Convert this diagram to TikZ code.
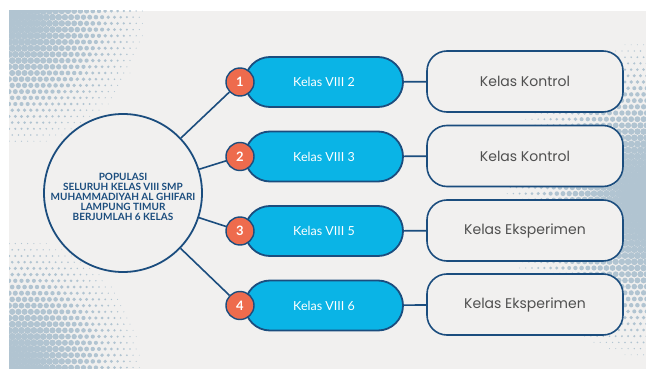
\documentclass[tikz,border=0pt]{standalone}
\usepackage{fontspec}
\setmainfont{Poppins}
\newfontfamily\latof{Lato}
\definecolor{bgc}{HTML}{F1F0EF}
\definecolor{dotc}{HTML}{B1C4D1}
\definecolor{navy}{HTML}{1B4D7E}
\definecolor{cyanf}{HTML}{0AB4E6}
\definecolor{orangef}{HTML}{EE6B4D}
\definecolor{txtg}{HTML}{505050}
\newcommand\halftone[8]{%
  \foreach \k in {0,...,#7}{%
    \pgfmathsetmacro\gy{#6+\k*6.2}%
    \pgfmathsetmacro\off{mod(\k,2)*3.1}%
    \foreach \m in {0,...,#5}{%
      \pgfmathsetmacro\gx{#4+\m*6.2+\off}%
      \pgfmathsetmacro\dd{min(veclen(\gx-#1,\gy-#2)/#3,1)}%
      \pgfmathsetmacro\rr{#8*(1-\dd^1.6)}%
      \ifdim\rr pt>0.4pt \fill[dotc] (\gx,\gy) circle[radius=\rr pt];\fi
    }%
  }%
}
\begin{document}
\begin{tikzpicture}[x=1pt,y=-1pt,
  pop/.style={circle,draw=navy,line width=1.8pt,fill=bgc,minimum size=158pt,inner sep=0pt},
  poptext/.style={align=center,text=navy,inner sep=0pt,font=\latof\fontsize{10}{10}\selectfont\bfseries},
  pill/.style={rectangle,rounded corners=25pt,draw=navy,line width=1.8pt,fill=cyanf,minimum width=158pt,minimum height=50pt,inner sep=0pt,text=white,font=\latof\fontsize{12.5}{14}\selectfont},
  num/.style={circle,draw=navy,line width=1.4pt,fill=orangef,minimum size=28pt,inner sep=0pt,text=white,font=\latof\fontsize{13}{14}\selectfont\bfseries},
  box/.style={rectangle,rounded corners=20pt,draw=navy,line width=1.6pt,fill=bgc,minimum width=196pt,minimum height=61pt,inner sep=0pt,text=txtg,font=\fontsize{14}{16}\selectfont},
  conn/.style={draw=navy,line width=1.6pt}]
\useasboundingbox (0,0) rectangle (646,369);
\fill[white] (0,0) rectangle (646,369);
\fill[bgc] (9,11) rectangle (646,369);
\begin{scope}
\clip (9,11) rectangle (646,369);
\halftone{9}{11}{145}{6}{25}{11}{25}{4.1}
\halftone{9}{369}{140}{6}{25}{225}{24}{4.1}
\halftone{664}{200}{170}{470}{30}{20}{56}{4.4}
\end{scope}
\node[pop] (pop) at (123,193) {};
\node[poptext] (popt) at (123,197) {POPULASI\\SELURUH KELAS VIII SMP\\MUHAMMADIYAH AL GHIFARI\\LAMPUNG TIMUR\\BERJUMLAH 6 KELAS};
\node[pill] (p1) at (324,82) {Kelas VIII 2};
\node[pill] (p2) at (324,156.5) {Kelas VIII 3};
\node[pill] (p3) at (324,231) {Kelas VIII 5};
\node[pill] (p4) at (324,305.5) {Kelas VIII 6};
\node[num] (n1) at (240,82) {1};
\node[num] (n2) at (240,156.5) {2};
\node[num] (n3) at (240,231) {3};
\node[num] (n4) at (240,305.5) {4};
\node[box] (b1) at (525,81.5) {Kelas Kontrol};
\node[box] (b2) at (525,156) {Kelas Kontrol};
\node[box] (b3) at (525,230.5) {Kelas Eksperimen};
\node[box] (b4) at (525,304.5) {Kelas Eksperimen};
\foreach \i in {1,...,4}{
  \draw[conn] (pop) -- (n\i);
  \draw[conn] (p\i) -- (b\i);
}
\end{tikzpicture}
\end{document}
